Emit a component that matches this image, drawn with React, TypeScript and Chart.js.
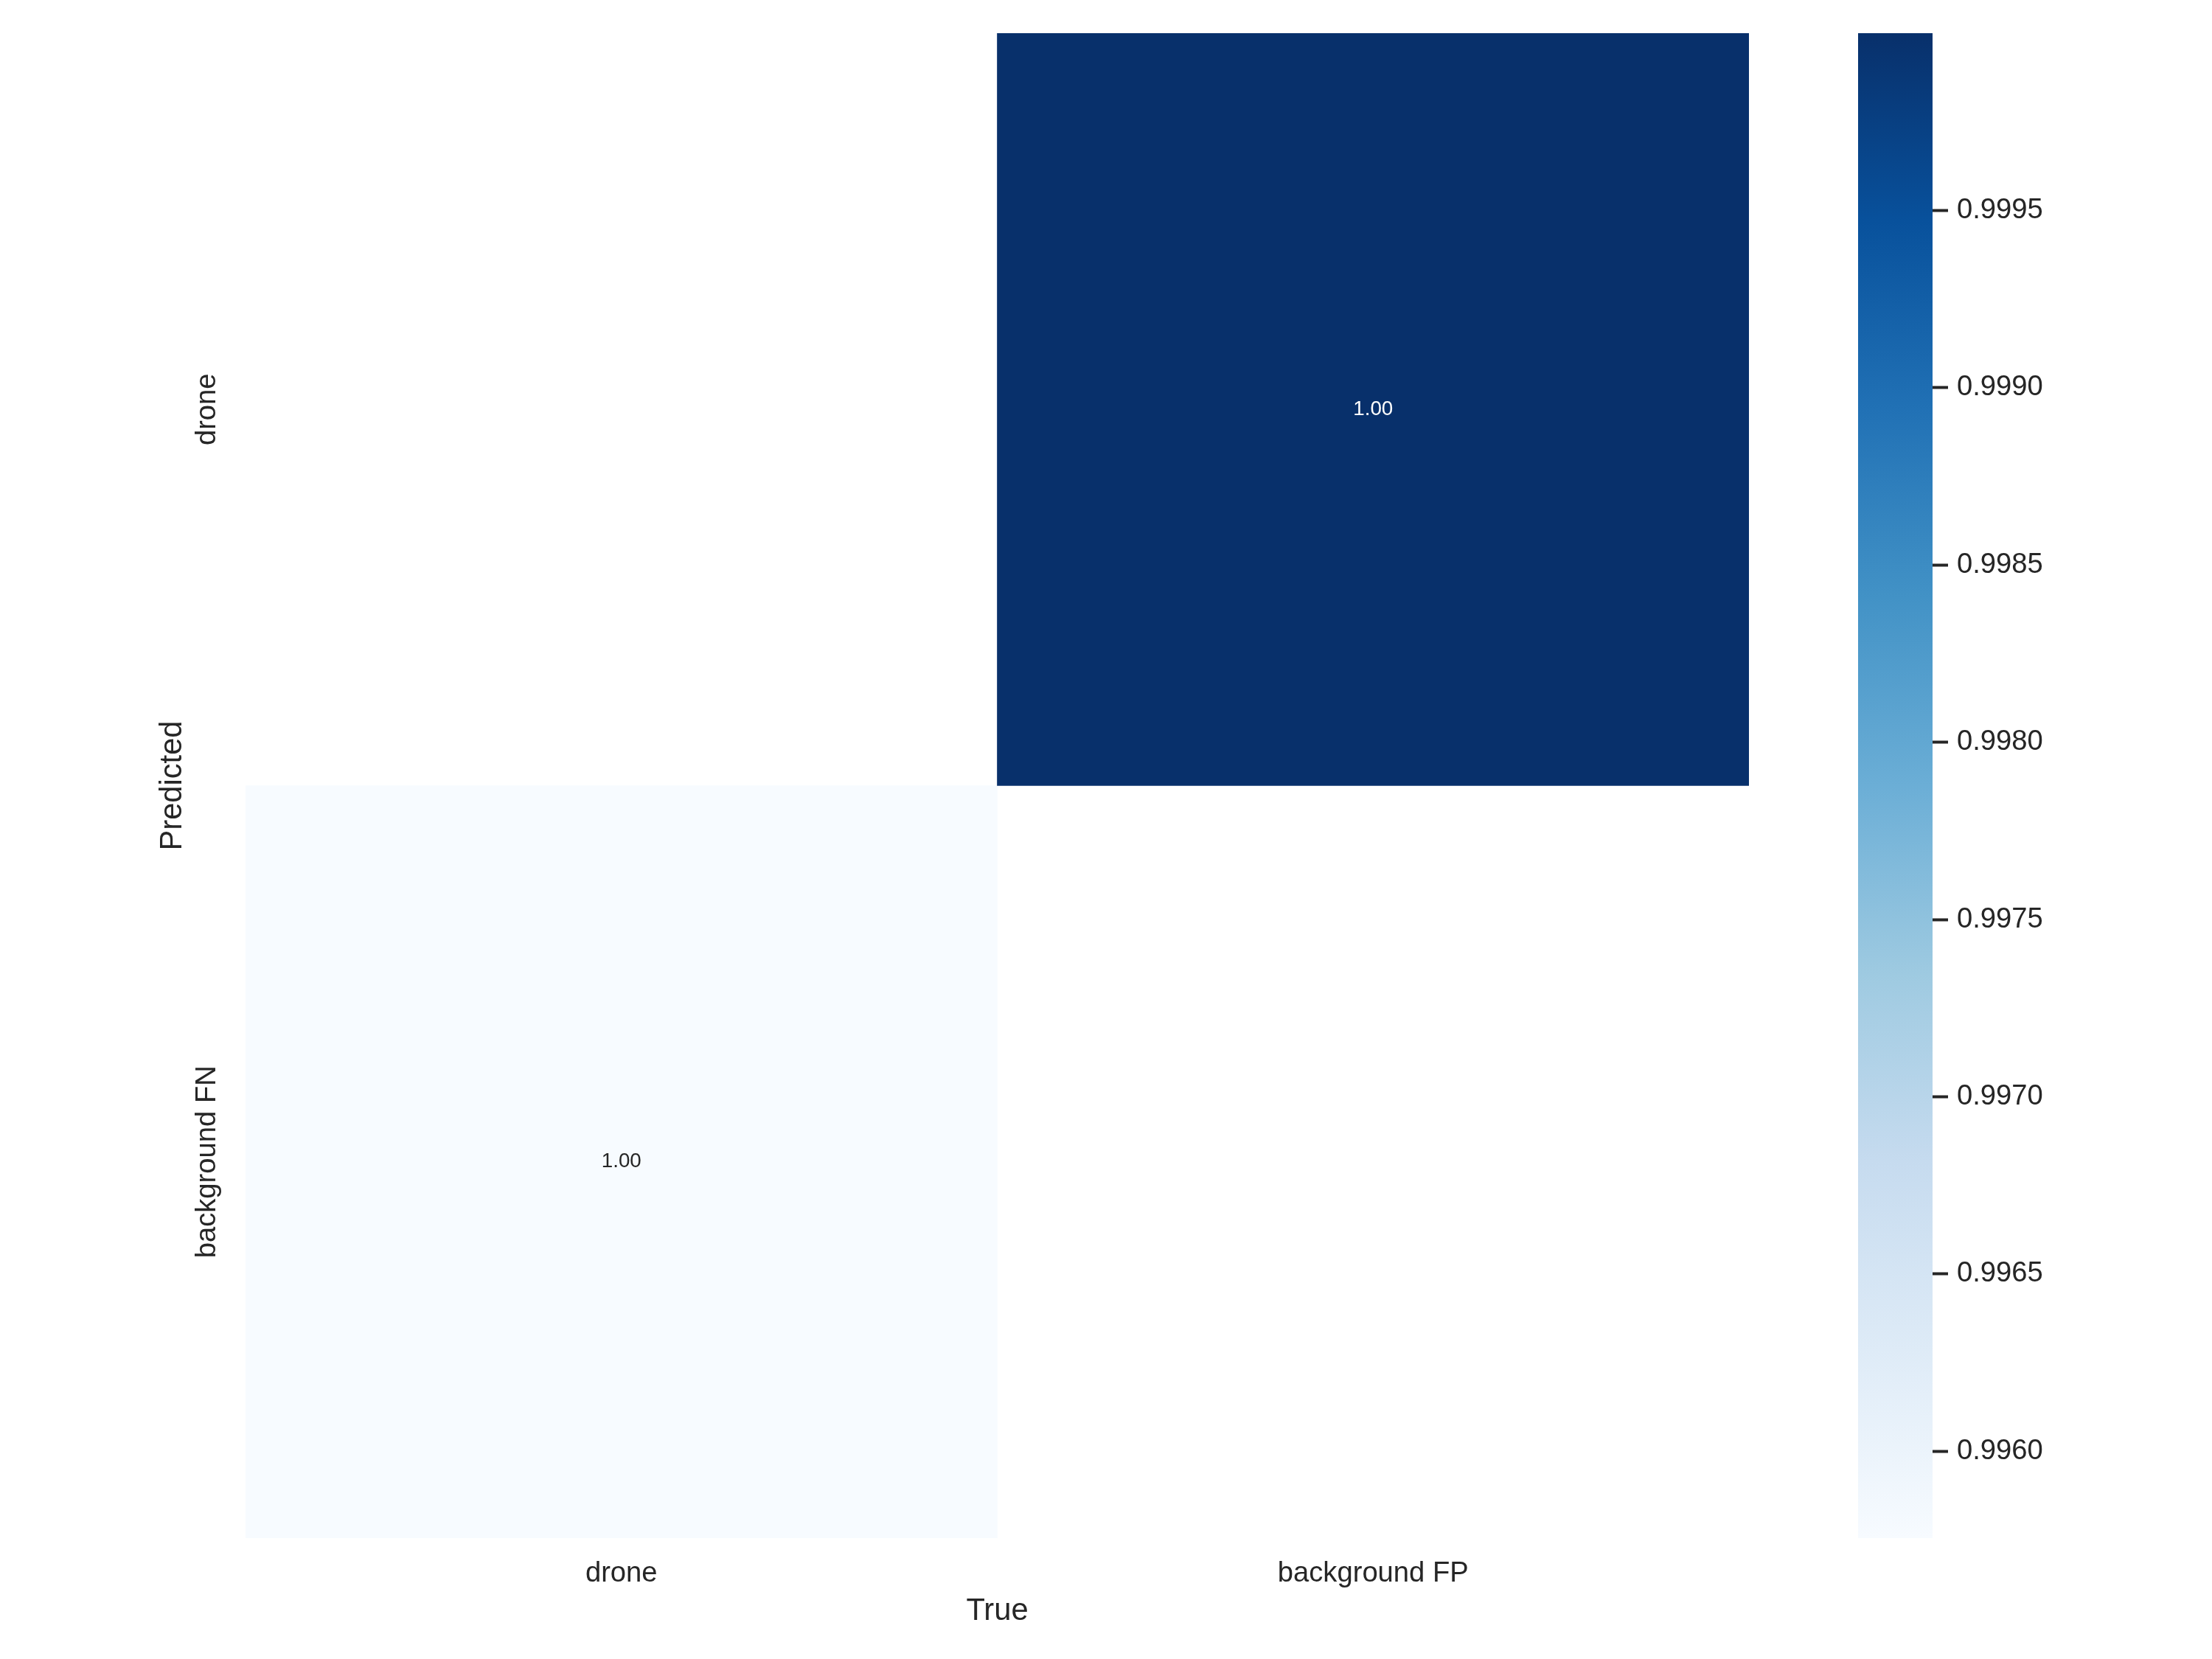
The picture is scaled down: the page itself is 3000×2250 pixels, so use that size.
import React, { useEffect, useRef } from "react";
import { Chart, registerables } from "chart.js";

Chart.register(...registerables);

// ---------------- data ----------------
const TRUE_LABELS = ["drone", "background FP"];
const PRED_LABELS = ["drone", "background FN"];
const ROW_DRONE: (number | null)[] = [null, 1.0];
const ROW_BG_FN: (number | null)[] = [0.995755, null];
const CB_TICKS = [0.996, 0.9965, 0.997, 0.9975, 0.998, 0.9985, 0.999, 0.9995];
const X_TITLE = "True";
const Y_TITLE = "Predicted";

const BLUES = [
  "#f7fbff", "#deebf7", "#c6dbef", "#9ecae1", "#6baed6",
  "#4292c6", "#2171b5", "#08519c", "#08306b",
];

const ROWS = [ROW_DRONE, ROW_BG_FN];
const ALL_VALUES = ROWS.flat().filter((v): v is number => v != null);
const VMIN = Math.min(...ALL_VALUES);
const VMAX = Math.max(...ALL_VALUES);

const FONT_FAMILY = "'Liberation Sans', Arial, Helvetica, sans-serif";
const TICK_SIZE = 38.2;
const LABEL_SIZE = 41.7;
const ANNOT_SIZE = 27.8;
const TEXT_COLOR = "#262626";

function hexToRgb(h: string) {
  const n = parseInt(h.slice(1), 16);
  return [(n >> 16) & 255, (n >> 8) & 255, n & 255];
}

function blues(t: number) {
  const tt = Math.max(0, Math.min(1, t)) * (BLUES.length - 1);
  const i = Math.min(BLUES.length - 2, Math.floor(tt));
  const f = tt - i;
  const a = hexToRgb(BLUES[i]);
  const b = hexToRgb(BLUES[i + 1]);
  return [0, 1, 2].map((k) => Math.round(a[k] + (b[k] - a[k]) * f));
}

function colorFor(v: number) {
  const c = blues((v - VMIN) / (VMAX - VMIN));
  return `rgb(${c[0]},${c[1]},${c[2]})`;
}

function textColorFor(v: number) {
  const c = blues((v - VMIN) / (VMAX - VMIN)).map((x) => {
    const s = x / 255;
    return s <= 0.03928 ? s / 12.92 : Math.pow((s + 0.055) / 1.055, 2.4);
  });
  const lum = 0.2126 * c[0] + 0.7152 * c[1] + 0.0722 * c[2];
  return lum > 0.408 ? TEXT_COLOR : "#ffffff";
}

function measureWidest(labels: string[], size: number) {
  const c = document.createElement("canvas").getContext("2d");
  if (!c) return 240;
  c.font = `normal ${size}px ${FONT_FAMILY}`;
  return Math.max(...labels.map((l) => c.measureText(l).width));
}

const annotPlugin = {
  id: "annot",
  afterDatasetsDraw(chart: any) {
    const ctx = chart.ctx;
    chart.data.datasets.forEach((ds: any, di: number) => {
      const meta = chart.getDatasetMeta(di);
      (ds.values as (number | null)[]).forEach((v, i) => {
        if (v == null) return;
        const el = meta.data[i];
        if (!el) return;
        const p = el.getProps(["x", "y", "base"], true);
        ctx.save();
        ctx.font = `normal ${ANNOT_SIZE}px ${FONT_FAMILY}`;
        ctx.fillStyle = textColorFor(v);
        ctx.textAlign = "center";
        ctx.textBaseline = "middle";
        ctx.fillText(v.toFixed(2), p.x, (p.y + p.base) / 2);
        ctx.restore();
      });
    });
  },
};

export default function App() {
  const mainRef = useRef<HTMLCanvasElement>(null);
  const cbRef = useRef<HTMLCanvasElement>(null);

  useEffect(() => {
    document.body.style.margin = "0";
    Chart.defaults.font.family = FONT_FAMILY;
    Chart.defaults.color = TEXT_COLOR;

    const widest = measureWidest(PRED_LABELS, TICK_SIZE);
    const yTickPad = 43.5 - widest / 2;

    const nRows = ROWS.length;
    const datasets = ROWS.map((row, r) => ({
      label: PRED_LABELS[r],
      values: row,
      data: row.map((v) => (v == null ? null : [nRows - 1 - r, nRows - r])),
      backgroundColor: row.map((v) => (v == null ? "rgba(0,0,0,0)" : colorFor(v))),
      borderWidth: 0,
      grouped: false,
      barPercentage: 1,
      categoryPercentage: 1,
    }));

    const main = new Chart(mainRef.current as HTMLCanvasElement, {
      type: "bar",
      data: { labels: TRUE_LABELS, datasets: datasets as any },
      options: {
        animation: false,
        responsive: false,
        devicePixelRatio: 1,
        layout: { padding: { top: 45, right: 128, left: 0, bottom: 0 } },
        plugins: { legend: { display: false }, tooltip: { enabled: false } },
        scales: {
          x: {
            type: "category",
            offset: true,
            grid: { display: false },
            border: { display: false },
            afterFit: (s: any) => {
              s.height = 164;
            },
            ticks: {
              padding: 18,
              maxRotation: 0,
              minRotation: 0,
              autoSkip: false,
              color: TEXT_COLOR,
              font: { size: TICK_SIZE },
            },
            title: {
              display: true,
              text: X_TITLE,
              color: TEXT_COLOR,
              font: { size: LABEL_SIZE },
              padding: { top: 0, bottom: 39 },
            },
          },
          y: {
            type: "linear",
            min: 0,
            max: nRows,
            grid: { display: false },
            border: { display: false },
            afterBuildTicks: (s: any) => {
              s.ticks = PRED_LABELS.map((_, r) => ({ value: nRows - r - 0.5 }));
            },
            afterFit: (s: any) => {
              s.width = 333;
            },
            ticks: {
              padding: yTickPad,
              minRotation: 90,
              maxRotation: 90,
              crossAlign: "center",
              autoSkip: false,
              color: TEXT_COLOR,
              font: { size: TICK_SIZE },
              callback: (value: any) => PRED_LABELS[nRows - 1 - Math.floor(Number(value))],
            },
            title: {
              display: true,
              text: Y_TITLE,
              color: TEXT_COLOR,
              font: { size: LABEL_SIZE },
              padding: { top: 209, bottom: 0 },
            },
          },
        },
      } as any,
      plugins: [annotPlugin],
    });

    const cb = new Chart(cbRef.current as HTMLCanvasElement, {
      type: "bar",
      data: {
        labels: ["colorbar"],
        datasets: [
          {
            data: [[VMIN, VMAX]] as any,
            borderWidth: 0,
            barPercentage: 1,
            categoryPercentage: 1,
            backgroundColor: (ctx: any) => {
              const area = ctx.chart.chartArea;
              if (!area) return BLUES[4];
              const g = ctx.chart.ctx.createLinearGradient(0, area.bottom, 0, area.top);
              BLUES.forEach((c, i) => g.addColorStop(i / (BLUES.length - 1), c));
              return g;
            },
          },
        ],
      },
      options: {
        animation: false,
        responsive: false,
        devicePixelRatio: 1,
        layout: { padding: { left: 20, top: 45, bottom: 164, right: 0 } },
        plugins: { legend: { display: false }, tooltip: { enabled: false } },
        scales: {
          x: { display: false },
          y: {
            type: "linear",
            position: "right",
            min: VMIN,
            max: VMAX,
            afterBuildTicks: (s: any) => {
              s.ticks = CB_TICKS.map((v) => ({ value: v }));
            },
            afterFit: (s: any) => {
              s.width = 379;
            },
            grid: {
              display: true,
              drawOnChartArea: false,
              drawTicks: true,
              tickLength: 21,
              tickWidth: 4,
              tickColor: TEXT_COLOR,
            },
            border: { display: false },
            ticks: {
              padding: 12,
              color: TEXT_COLOR,
              font: { size: TICK_SIZE },
              autoSkip: false,
              callback: (v: any) => Number(v).toFixed(4),
            },
          },
        },
      } as any,
    });

    return () => {
      main.destroy();
      cb.destroy();
    };
  }, []);

  return (
    <div
      style={{
        position: "fixed",
        left: 0,
        top: 0,
        width: 3000,
        height: 2250,
        background: "#ffffff",
      }}
    >
      <canvas
        ref={mainRef}
        width={2500}
        height={2250}
        style={{ position: "absolute", left: 0, top: 0, width: 2500, height: 2250 }}
      />
      <canvas
        ref={cbRef}
        width={500}
        height={2250}
        style={{ position: "absolute", left: 2500, top: 0, width: 500, height: 2250 }}
      />
    </div>
  );
}
